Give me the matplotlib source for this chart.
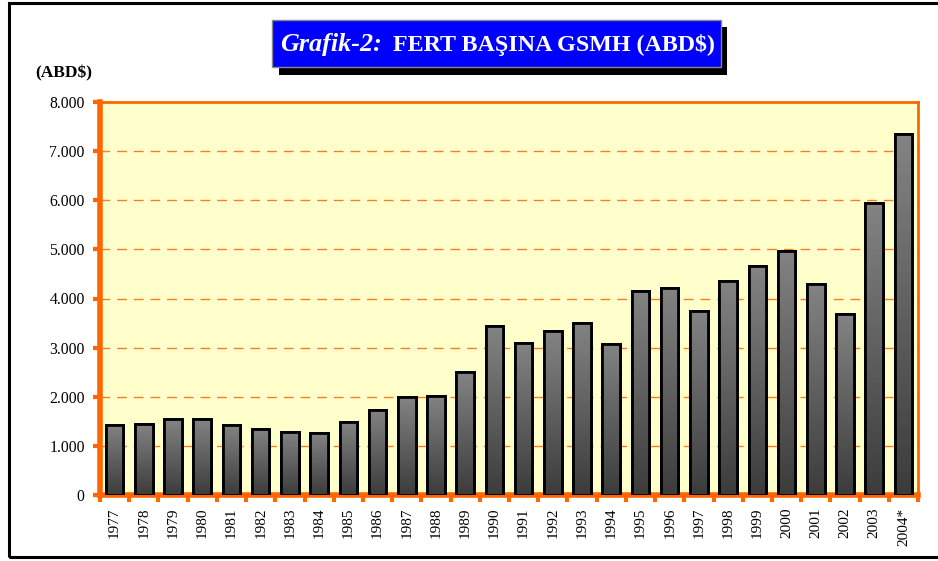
import matplotlib
matplotlib.use("Agg")
import matplotlib.pyplot as plt
from matplotlib.patches import Rectangle
import numpy as np

plt.rcParams['font.family'] = ['Liberation Serif', 'DejaVu Serif']

# data (ABD$ per capita)
years = ['1977', '1978', '1979', '1980', '1981', '1982', '1983', '1984', '1985',
         '1986', '1987', '1988', '1989', '1990', '1991', '1992', '1993', '1994',
         '1995', '1996', '1997', '1998', '1999', '2000', '2001', '2002', '2003', '2004*']
gsmh = [1430, 1450, 1545, 1540, 1420, 1347, 1292, 1258, 1480,
        1740, 1990, 2025, 2500, 3440, 3100, 3330, 3510, 3080,
        4150, 4210, 3750, 4350, 4660, 4970, 4290, 3690, 5945, 7340]
yticks = [0, 1000, 2000, 3000, 4000, 5000, 6000, 7000, 8000]
ylabels = ['0', '1.000', '2.000', '3.000', '4.000', '5.000', '6.000', '7.000', '8.000']

W, H = 938, 561
ORANGE = '#FF6600'

def fx(x):
    return x / W

def fy(y):
    return 1 - y / H

fig = plt.figure(figsize=(W / 100, H / 100), dpi=100)
fig.patch.set_facecolor('white')

# outer frame (right edge runs off the picture)
fig.patches.append(Rectangle((fx(9), fy(557)), fx(945) - fx(9), fy(3) - fy(557),
                             transform=fig.transFigure, fill=False, ec='black', lw=2.2))

ax = fig.add_axes([fx(100), fy(495), fx(918) - fx(100), fy(102) - fy(495)])
ax.set_facecolor('#FFFFCC')

x = np.arange(len(years))
bars = ax.bar(x, gsmh, width=0.6, color='#666666', edgecolor='black', linewidth=2.0, zorder=3)

# vertical gray gradient in each bar
cmap = matplotlib.colors.LinearSegmentedColormap.from_list('g', ['#3c3c3c', '#838383'])
grad = np.linspace(0, 1, 100).reshape(-1, 1)
for b in bars:
    bx, by = b.get_x(), b.get_y()
    bw, bh = b.get_width(), b.get_height()
    im = ax.imshow(grad, extent=(bx, bx + bw, by, by + bh), origin='lower',
                   cmap=cmap, aspect='auto', zorder=3.5)
    im.set_clip_path(b)
    ax.add_patch(Rectangle((bx, by), bw, bh, fill=False, ec='black', lw=2.0, zorder=4))

ax.set_xlim(-0.5, len(years) - 0.5)
ax.set_ylim(0, 8000)

for v in yticks[1:-1]:
    ax.axhline(v, color=ORANGE, lw=1.0, ls=(0, (7, 5)), zorder=1, alpha=0.85)

ax.set_yticks(yticks)
ax.set_yticklabels(ylabels, fontsize=11.3)
ax.set_xticks(x)
ax.set_xticklabels(years, rotation=90, fontsize=11)
ax.tick_params(axis='x', which='major', length=0, pad=9)
ax.set_xticks(np.arange(-0.5, len(years)), minor=True)
ax.tick_params(axis='x', which='minor', length=5, width=3, color=ORANGE, direction='out')
ax.tick_params(axis='y', length=5, width=3, color=ORANGE, direction='out', pad=6)

for s in ['left', 'bottom']:
    ax.spines[s].set_color(ORANGE)
    ax.spines[s].set_linewidth(4)
for s in ['right', 'top']:
    ax.spines[s].set_color(ORANGE)
    ax.spines[s].set_linewidth(2)

fig.text(fx(35), fy(73), '(ABD$)', fontsize=12.5, fontweight='bold', va='center', ha='left')

# title box with shadow
fig.patches.append(Rectangle((fx(279), fy(75)), fx(727) - fx(279), fy(27) - fy(75),
                             transform=fig.transFigure, fc='black', ec='none'))
fig.patches.append(Rectangle((fx(272), fy(67)), fx(721) - fx(272), fy(20) - fy(67),
                             transform=fig.transFigure, fc='#0000FF', ec='#888888', lw=1))
fig.text(fx(280), fy(45), 'Grafik-2:', fontsize=18.8, fontweight='bold', fontstyle='italic',
         color='white', ha='left', va='center')
fig.text(fx(393), fy(45), 'FERT BAŞINA GSMH (ABD$)', fontsize=17.3, fontweight='bold',
         color='white', ha='left', va='center')

fig.savefig('out.png', dpi=100)
